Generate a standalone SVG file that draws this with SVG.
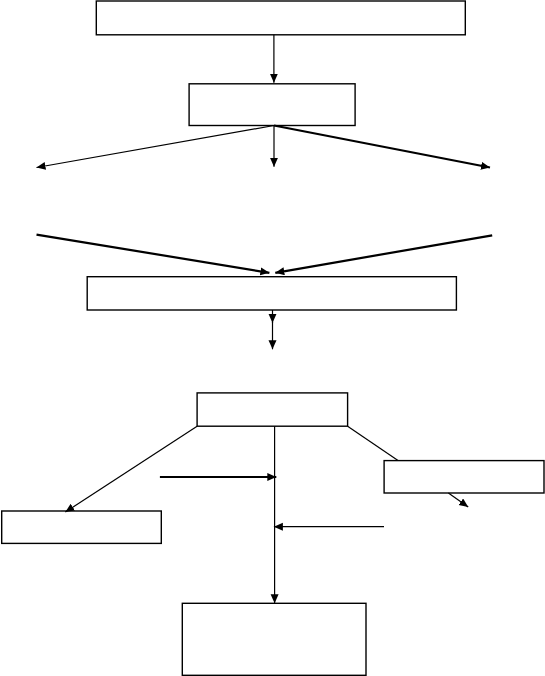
<svg xmlns="http://www.w3.org/2000/svg" width="545" height="676" viewBox="0 0 545 676">
<style>
.box{fill:#fff;stroke:#000;stroke-width:1.4}
.c{fill:none;stroke:#000;stroke-width:1.2}
.t{fill:none;stroke:#000;stroke-width:2.2}
</style>
<defs>
<marker id="ah" markerUnits="userSpaceOnUse" markerWidth="10" markerHeight="9" refX="9" refY="4" orient="auto" viewBox="0 0 10 9">
<path d="M0,0 L9,4 L0,8 z" fill="#000"/>
</marker>
</defs>
<rect width="545" height="676" fill="#fff"/>
<g id="n1"><rect class="box" x="96.3" y="1" width="369" height="33.8"/></g>
<g id="n2"><rect class="box" x="189.1" y="83.8" width="166" height="41.7"/></g>
<g id="n3"><rect class="box" x="87.2" y="276.7" width="369.2" height="33.3"/></g>
<g id="n4"><rect class="box" x="197.1" y="392.9" width="150.5" height="33.3"/></g>
<g id="n5"><rect class="box" x="384.1" y="460.6" width="159.9" height="32.4"/></g>
<g id="n6"><rect class="box" x="1.7" y="511" width="159.6" height="32.4"/></g>
<g id="n7"><rect class="box" x="182.3" y="603.3" width="183.7" height="72"/></g>
<g id="connectors">
<line class="c" x1="273.9" y1="34.8" x2="273.9" y2="82.7" marker-end="url(#ah)"/>
<line class="c" x1="274" y1="125.5" x2="36.5" y2="167.5" marker-end="url(#ah)"/>
<line class="c" x1="274" y1="125.5" x2="274" y2="166.8" marker-end="url(#ah)"/>
<line class="t" x1="274" y1="125.5" x2="490" y2="167.5" marker-end="url(#ah)"/>
<line class="t" x1="36.5" y1="234.6" x2="269.4" y2="272.8" marker-end="url(#ah)"/>
<line class="t" x1="492.2" y1="235.3" x2="275.3" y2="272.8" marker-end="url(#ah)"/>
<line class="c" x1="272.5" y1="310" x2="272.5" y2="322.9" marker-end="url(#ah)"/>
<line class="c" x1="272.5" y1="322" x2="272.5" y2="349.3" marker-end="url(#ah)"/>
<line class="c" x1="274.6" y1="426.2" x2="274.6" y2="603.3" marker-end="url(#ah)"/>
<line class="c" x1="197.1" y1="426.2" x2="65.3" y2="512.1" marker-end="url(#ah)"/>
<line class="c" x1="347.6" y1="426.2" x2="398" y2="460.6"/>
<line class="c" x1="448.4" y1="493" x2="468.2" y2="506.9" marker-end="url(#ah)"/>
<line class="t" x1="159.9" y1="477" x2="276.3" y2="477" marker-end="url(#ah)"/>
<line class="c" x1="384" y1="526.7" x2="273.9" y2="526.7" marker-end="url(#ah)"/>
</g>
</svg>
